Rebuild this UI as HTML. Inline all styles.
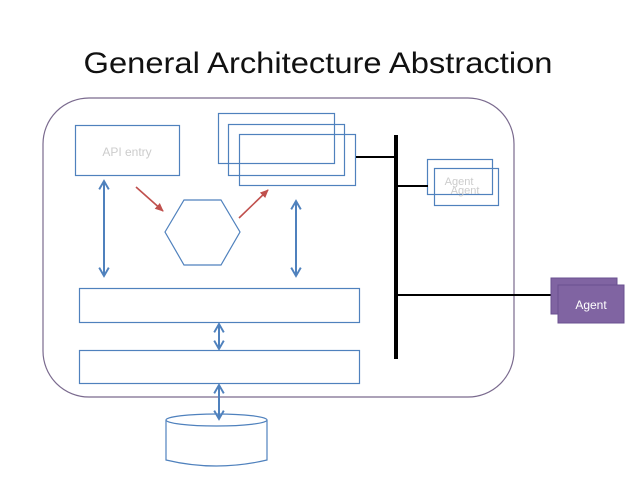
<!DOCTYPE html>
<html><head><style>
html,body{margin:0;padding:0;background:#fff;}
svg{display:block;}
</style></head><body>
<svg width="638" height="479" xmlns="http://www.w3.org/2000/svg">
<defs>
<marker id="ab" viewBox="0 0 10 10" refX="8" refY="5" markerWidth="6" markerHeight="6" orient="auto-start-reverse"><path d="M1,1 L8,5 L1,9" fill="none" stroke="#4f81bd" stroke-width="1.6"/></marker>
<marker id="ar" viewBox="0 0 10 10" refX="8" refY="5" markerWidth="6" markerHeight="6" orient="auto"><path d="M0,1 L9,5 L0,9 z" fill="#c0504d"/></marker>
</defs>
<text x="318" y="73" text-anchor="middle" font-family="Liberation Sans, sans-serif" font-size="30" textLength="469" lengthAdjust="spacingAndGlyphs" fill="#111">General Architecture Abstraction</text>
<rect x="43" y="98" width="471" height="299" rx="46" fill="none" stroke="#7a6a8e" stroke-width="1.2"/>
<g fill="none" stroke="#4f81bd" stroke-width="1.2">
<rect x="75.5" y="125.5" width="104" height="50"/>
<rect x="218.5" y="113.5" width="116" height="50"/>
<rect x="228.5" y="124.5" width="116" height="51"/>
<rect x="239.5" y="134.5" width="116" height="51"/>
<polygon points="165,232 184,200 221,200 240,232 221,265 184,265"/>
<rect x="427.5" y="159.5" width="65" height="35"/>
<rect x="434.5" y="168.5" width="64" height="37"/>
<rect x="79.5" y="288.5" width="280" height="34"/>
<rect x="79.5" y="350.5" width="280" height="33"/>
<path d="M166,420 L166,460 Q216,472 267,460 L267,420"/>
<ellipse cx="216.5" cy="420" rx="50.5" ry="6"/>
</g>
<text x="127" y="156" text-anchor="middle" font-family="Liberation Sans, sans-serif" font-size="12" fill="#ccc">API entry</text>
<text x="459" y="185" text-anchor="middle" font-family="Liberation Sans, sans-serif" font-size="11" fill="#ccc">Agent</text>
<text x="465" y="194" text-anchor="middle" font-family="Liberation Sans, sans-serif" font-size="11" fill="#ccc">Agent</text>
<g stroke="#4f81bd" stroke-width="2" marker-start="url(#ab)" marker-end="url(#ab)">
<line x1="104" y1="181" x2="104" y2="276"/>
<line x1="296" y1="201" x2="296" y2="276"/>
<line x1="219" y1="324" x2="219" y2="349"/>
<line x1="219" y1="385" x2="219" y2="419"/>
</g>
<g stroke="#c0504d" stroke-width="1.6" marker-end="url(#ar)">
<line x1="136" y1="187" x2="163" y2="211"/>
<line x1="239" y1="218" x2="268" y2="190"/>
</g>
<line x1="396" y1="135" x2="396" y2="359" stroke="#000" stroke-width="4"/>
<g stroke="#000" stroke-width="2">
<line x1="356" y1="157" x2="396" y2="157"/>
<line x1="396" y1="186" x2="428" y2="186"/>
<line x1="396" y1="295" x2="552" y2="295"/>
</g>
<rect x="551" y="278" width="66" height="36" fill="#8064a2" stroke="#6a5090" stroke-width="1"/>
<rect x="558" y="285" width="66" height="38" fill="#8064a2" stroke="#6a5090" stroke-width="1"/>
<text x="591" y="309" text-anchor="middle" font-family="Liberation Sans, sans-serif" font-size="12" fill="#fff">Agent</text>
</svg>
</body></html>
